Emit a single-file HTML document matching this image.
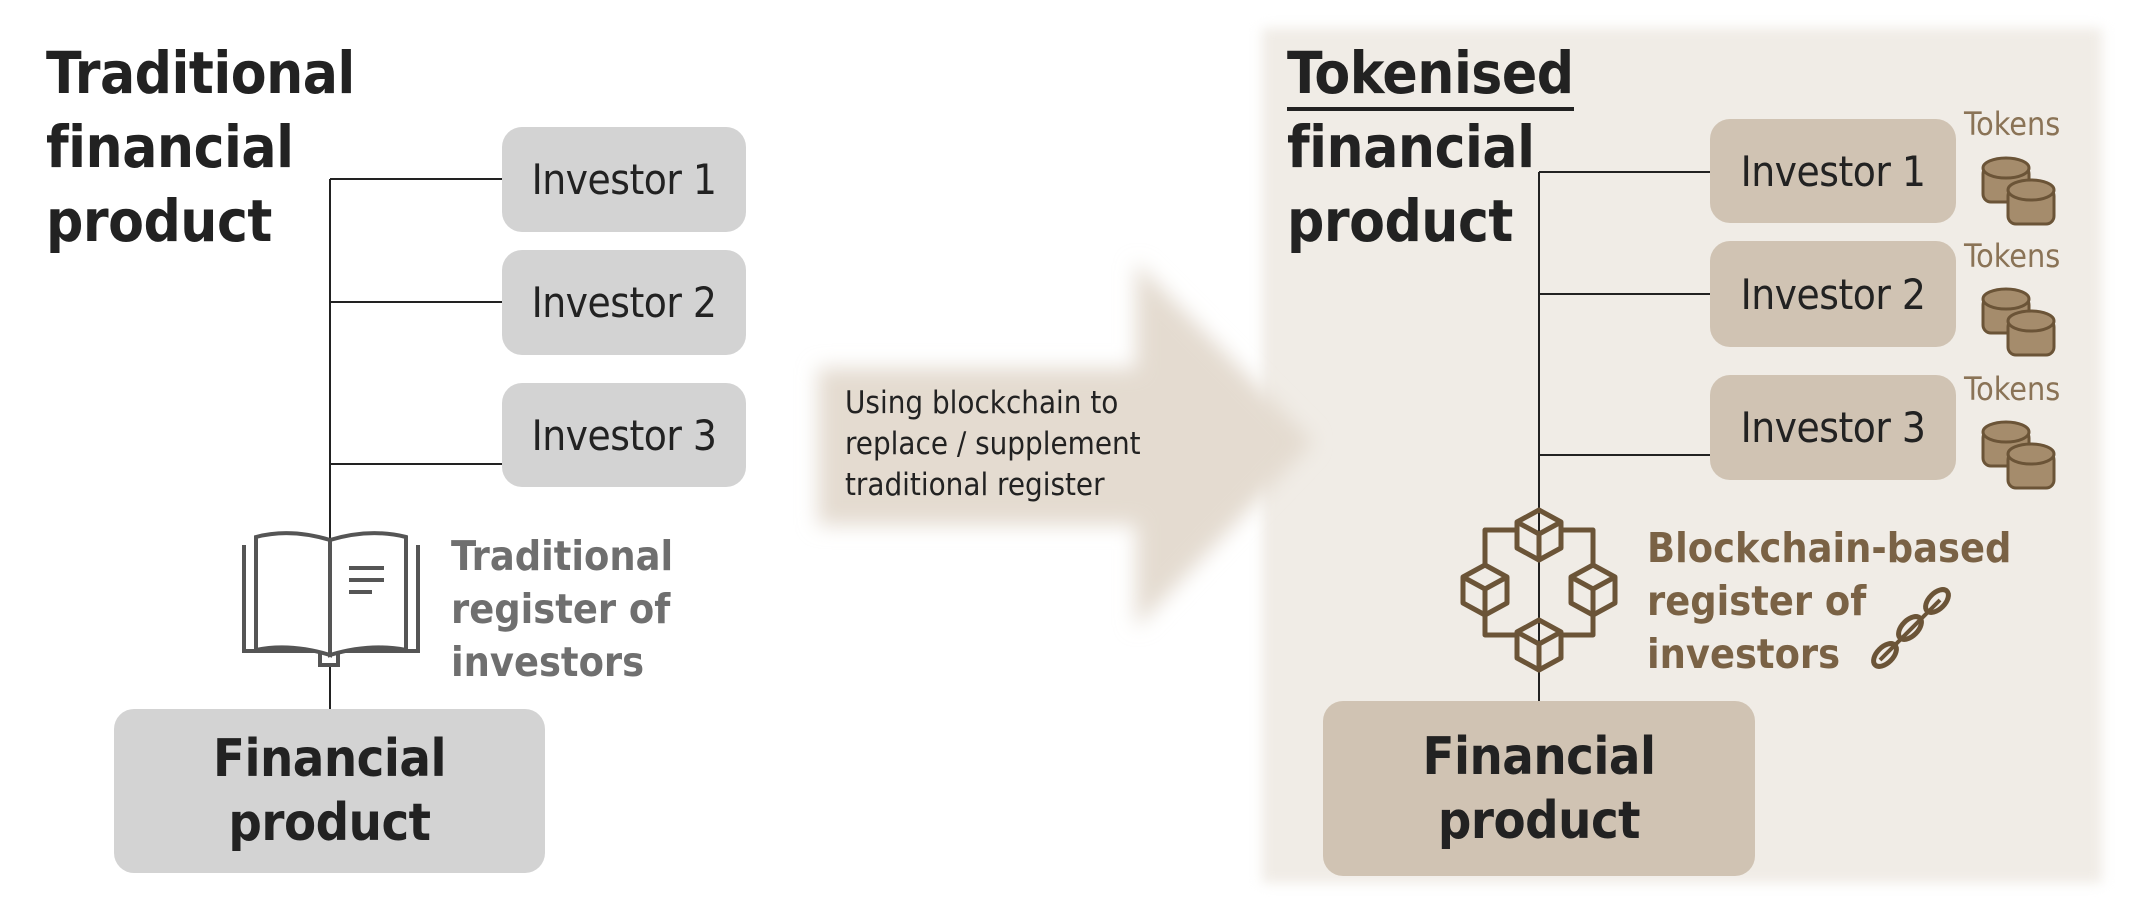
<!DOCTYPE html>
<html><head><meta charset="utf-8"><style>
body{margin:0;width:2137px;height:912px;background:#fff;position:relative;overflow:hidden;font-family:"DejaVu Sans","Liberation Sans",sans-serif;font-stretch:condensed;}
.a{position:absolute;white-space:nowrap;}
.title{font-weight:bold;font-size:58px;line-height:74px;color:#222;letter-spacing:-0.5px}
.box{position:absolute;border-radius:20px;display:flex;align-items:center;justify-content:center;font-size:42px;color:#222;letter-spacing:-0.5px}
.fin{font-weight:bold;font-size:52px;line-height:64px;text-align:center;letter-spacing:-0.5px}
</style></head><body>
<div class="a" style="left:1262px;top:28px;width:840px;height:855px;background:#f0ece6;filter:blur(6px)"></div>
<svg class="a" style="left:0;top:0" width="2137" height="912">
<defs><filter id="b"><feGaussianBlur stdDeviation="10"/></filter></defs>
<polygon points="818,368 1136,368 1136,262 1313,442 1136,628 1136,525 818,525" fill="#e4dbd0" filter="url(#b)"/>
<g stroke="#222" stroke-width="2" fill="none">
<path d="M330,179V709M330,179H502M330,302H502M330,464H502"/>
<path d="M1539,172V701M1539,172H1710M1539,294H1710M1539,455H1710"/>
</g>
<g stroke="#555" stroke-width="4" fill="#fff">
<path d="M244,545 V651 H320 V665 H338 V651 H418 V545"/>
<path d="M256,537 Q290,528 330,540 V655 Q290,643 256,650Z"/>
<path d="M330,540 Q370,528 406,537 V650 Q370,643 330,655Z"/>
</g>
<g stroke="#555" stroke-width="4"><path d="M349,568H384M349,580H384M349,592H372"/></g>
<g stroke="#6b5437" stroke-width="5" fill="none" stroke-linejoin="round">
<path d="M1539,510 l-22,12 v26 l22,12 l22,-12 v-26z M1517,522 l22,12 l22,-12 M1539,534 v26"/>
<path d="M1485,565 l-22,12 v26 l22,12 l22,-12 v-26z M1463,577 l22,12 l22,-12 M1485,589 v26"/>
<path d="M1593,565 l-22,12 v26 l22,12 l22,-12 v-26z M1571,577 l22,12 l22,-12 M1593,589 v26"/>
<path d="M1539,620 l-22,12 v26 l22,12 l22,-12 v-26z M1517,632 l22,12 l22,-12 M1539,644 v26"/>
<path d="M1517,530 l-32,0 v35 M1561,530 h32 v35 M1485,615 v20 h32 M1593,615 v20 h-32"/>
<path d="M1880,660 l60,-60" stroke-width="4"/>
<ellipse cx="1885" cy="655" rx="14" ry="8" transform="rotate(-45 1885 655)"/>
<ellipse cx="1910" cy="628" rx="14" ry="8" transform="rotate(-45 1910 628)"/>
<ellipse cx="1937" cy="601" rx="14" ry="8" transform="rotate(-45 1937 601)"/>
</g>
<g id="c" fill="#a58c6c" stroke="#6b5437" stroke-width="3">
<rect x="1983" y="166" width="46" height="36" rx="8"/><ellipse cx="2006" cy="168" rx="23" ry="10"/>
<rect x="2008" y="188" width="46" height="36" rx="8"/><ellipse cx="2031" cy="190" rx="23" ry="10"/>
</g>
<use href="#c" y="131"/><use href="#c" y="264"/>
</svg>
<div class="a title" style="left:46px;top:36px">Traditional<br>financial<br>product</div>
<div class="a title" style="left:1287px;top:36px"><span style="border-bottom:4px solid #222;padding-bottom:0">Tokenised</span><br>financial<br>product</div>
<div class="box" style="left:502px;top:127px;width:244px;height:105px;background:#d3d3d3">Investor 1</div>
<div class="box" style="left:502px;top:250px;width:244px;height:105px;background:#d3d3d3">Investor 2</div>
<div class="box" style="left:502px;top:383px;width:244px;height:104px;background:#d3d3d3">Investor 3</div>
<div class="box" style="left:1710px;top:119px;width:246px;height:104px;background:#d0c3b3">Investor 1</div>
<div class="box" style="left:1710px;top:241px;width:246px;height:106px;background:#d0c3b3">Investor 2</div>
<div class="box" style="left:1710px;top:375px;width:246px;height:105px;background:#d0c3b3">Investor 3</div>
<div class="box fin" style="left:114px;top:709px;width:431px;height:164px;background:#d3d3d3">Financial<br>product</div>
<div class="box fin" style="left:1323px;top:701px;width:432px;height:175px;background:#d0c3b3">Financial<br>product</div>
<div class="a" style="left:451px;top:530px;font-weight:bold;font-size:41px;line-height:53px;color:#6f6f6f">Traditional<br>register of<br>investors</div>
<div class="a" style="left:1647px;top:522px;font-weight:bold;font-size:41px;line-height:53px;color:#7a6245">Blockchain-based<br>register of<br>investors</div>
<div class="a" style="left:845px;top:383px;font-size:31px;line-height:41px;color:#222">Using blockchain to<br>replace / supplement<br>traditional register</div>
<div class="a" style="left:1964px;top:105px;font-size:32px;color:#8a7356">Tokens</div>
<div class="a" style="left:1964px;top:237px;font-size:32px;color:#8a7356">Tokens</div>
<div class="a" style="left:1964px;top:370px;font-size:32px;color:#8a7356">Tokens</div>
</body></html>
